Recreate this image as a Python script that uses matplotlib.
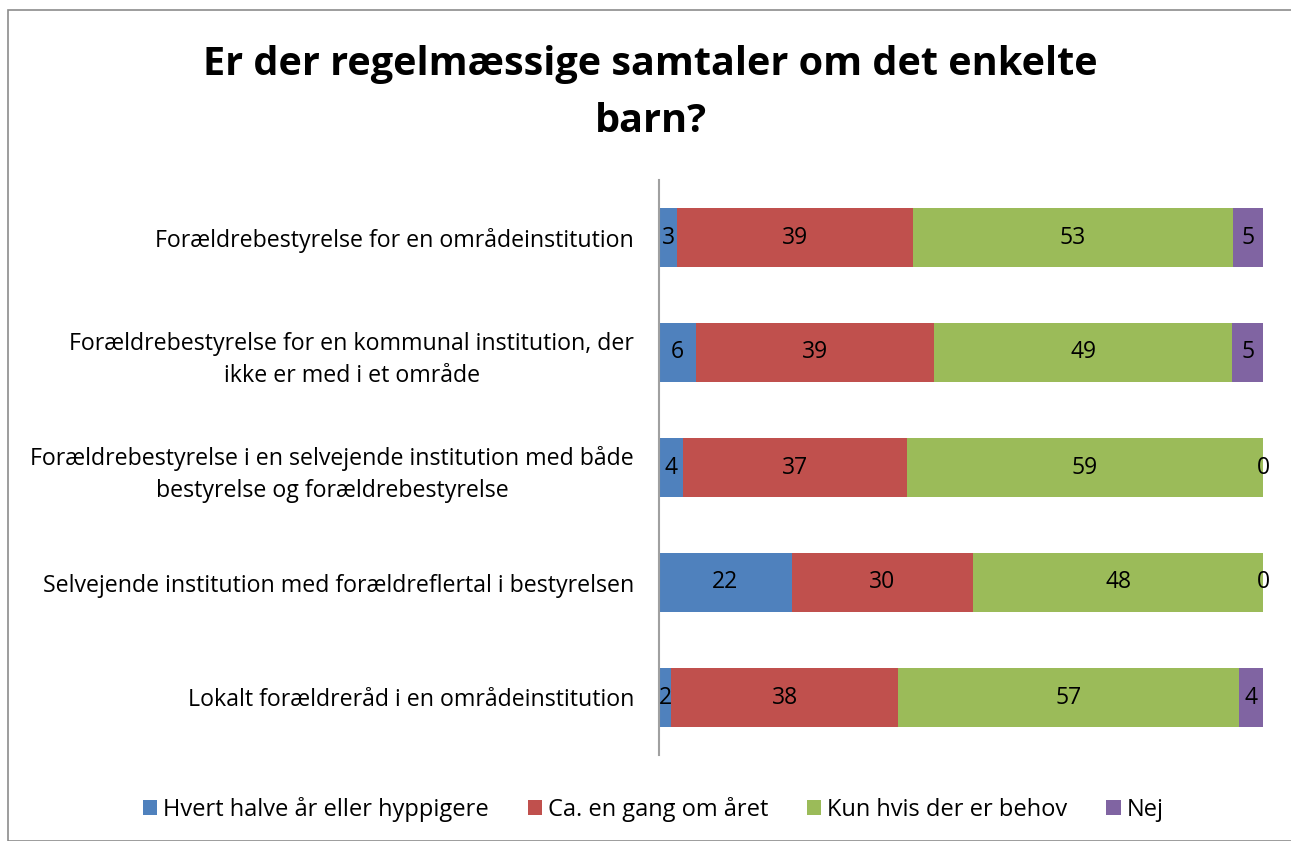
import matplotlib.pyplot as plt
import numpy as np
from matplotlib.patches import Rectangle

plt.rcParams['font.family'] = ['Open Sans', 'DejaVu Sans']

# data (top row first)
kategorier = [
    'Forældrebestyrelse for en områdeinstitution',
    'Forældrebestyrelse for en kommunal institution, der\nikke er med i et område',
    'Forældrebestyrelse i en selvejende institution med både\nbestyrelse og forældrebestyrelse',
    'Selvejende institution med forældreflertal i bestyrelsen',
    'Lokalt forældreråd i en områdeinstitution',
]
serier = ['Hvert halve år eller hyppigere', 'Ca. en gang om året',
          'Kun hvis der er behov', 'Nej']
hvert_halve = [3, 6, 4, 22, 2]
en_gang = [39, 39, 37, 30, 38]
behov = [53, 49, 59, 48, 57]
nej = [5, 5, 0, 0, 4]

farver = ['#4F81BD', '#C0504D', '#9BBB59', '#8064A2']

vaerdier = np.array([hvert_halve, en_gang, behov, nej], dtype=float)
andel = vaerdier / vaerdier.sum(axis=0) * 100

fig = plt.figure(figsize=(12.91, 8.41), dpi=100)
fig.patches.append(Rectangle((8 / 1291, 0), 1.0, 1 - 10 / 841, transform=fig.transFigure,
                             fill=False, edgecolor='#8c8c8c', linewidth=1.2))

ax = fig.add_axes([659 / 1291, 1 - 755 / 841, 604 / 1291, 575 / 841])
y = np.arange(len(kategorier))
venstre = np.zeros(len(kategorier))
for i in range(len(serier)):
    bars = ax.barh(y, andel[i], left=venstre, height=0.51, color=farver[i],
                   label=serier[i])
    ax.bar_label(bars, labels=[str(int(v)) for v in vaerdier[i]],
                 label_type='center', fontsize=16.5)
    venstre += andel[i]

ax.set_xlim(0, 100)
ax.set_ylim(len(kategorier) - 0.5, -0.5)
ax.set_yticks(y)
ax.set_yticklabels(kategorier, fontsize=16.7, ha='right', multialignment='center',
                   linespacing=1.45)
ax.tick_params(axis='y', length=0, pad=18)
ax.set_xticks([])
for s in ['top', 'right', 'bottom']:
    ax.spines[s].set_visible(False)
ax.spines['left'].set_color('#a0a0a0')
ax.spines['left'].set_linewidth(1.5)

fig.text(0.504, 1 - 93 / 841, 'Er der regelmæssige samtaler om det enkelte\nbarn?',
         ha='center', va='center', fontsize=28.5, fontweight='bold',
         linespacing=1.62)

fig.legend(loc='center', bbox_to_anchor=(0.506, 1 - 809 / 841), ncol=4,
           frameon=False, fontsize=17, handlelength=0.6, handleheight=0.6,
           handletextpad=0.25, columnspacing=1.65)

fig.savefig('out.png', dpi=100)
